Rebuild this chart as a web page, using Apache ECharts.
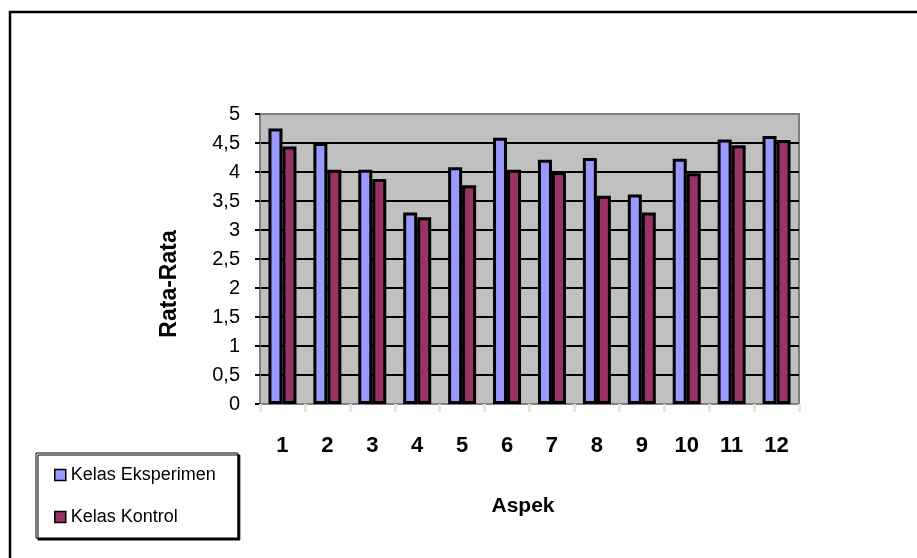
<!DOCTYPE html>
<html>
<head>
<meta charset="utf-8">
<script src="https://cdn.jsdelivr.net/npm/echarts@6/dist/echarts.min.js"></script>
<style>
  html, body { margin: 0; padding: 0; background: #ffffff; }
  #chart { width: 917px; height: 558px; }
</style>
</head>
<body>
<div id="chart"></div>
<script>
// Aspects assessed (x axis categories)
const aspek = ['1', '2', '3', '4', '5', '6', '7', '8', '9', '10', '11', '12'];
// Mean score per aspect for each class
const kelasEksperimen = [4.75, 4.50, 4.04, 3.30, 4.08, 4.59, 4.21, 4.24, 3.61, 4.23, 4.56, 4.62];
const kelasKontrol    = [4.44, 4.04, 3.88, 3.22, 3.77, 4.04, 4.00, 3.59, 3.30, 3.98, 4.46, 4.55];
const seriesNames = ['Kelas Eksperimen', 'Kelas Kontrol'];
const yTicks = { min: 0, max: 5, step: 0.5 };

const font = '"Liberation Sans", Arial, sans-serif';

// Split line colours: grey on the frame edges (0 and 5), black inside
const splitColors = [];
for (let v = yTicks.min; v <= yTicks.max + 1e-9; v += yTicks.step) {
  splitColors.push(v === yTicks.min || Math.abs(v - yTicks.max) < 1e-9 ? '#808080' : '#000000');
}

const chart = echarts.init(document.getElementById('chart'), null, { renderer: 'canvas' });

chart.setOption({
  animation: false,
  backgroundColor: '#ffffff',
  grid: {
    left: 260, top: 114, right: 118, bottom: 154,
    show: true,
    backgroundColor: '#c0c0c0',
    borderColor: '#808080',
    borderWidth: 2
  },
  legend: {
    orient: 'vertical',
    left: 36,
    top: 453,
    data: seriesNames,
    itemWidth: 11,
    itemHeight: 11,
    itemGap: 24,
    padding: [13, 22, 12, 18],
    backgroundColor: '#ffffff',
    borderColor: '#000000',
    borderWidth: 1,
    shadowColor: '#000000',
    shadowOffsetX: 2,
    shadowOffsetY: 2,
    shadowBlur: 0,
    icon: 'rect',
    itemStyle: { borderColor: '#000000', borderWidth: 1.5 },
    textStyle: { fontFamily: font, fontSize: 18, color: '#000000' }
  },
  xAxis: {
    type: 'category',
    data: aspek,
    boundaryGap: true,
    axisLine: { show: true, lineStyle: { color: '#808080', width: 2 } },
    axisTick: { show: true, length: 8, lineStyle: { color: '#e6e6d6', width: 3 } },
    axisLabel: {
      margin: 31,
      fontFamily: font,
      fontSize: 22,
      fontWeight: 'bold',
      color: '#000000'
    },
    splitLine: { show: false }
  },
  yAxis: {
    type: 'value',
    min: yTicks.min,
    max: yTicks.max,
    interval: yTicks.step,
    axisLine: { show: true, lineStyle: { color: '#808080', width: 2 } },
    axisTick: { show: true, length: 5, lineStyle: { color: '#000000', width: 2 } },
    axisLabel: {
      margin: 20,
      fontFamily: font,
      fontSize: 20,
      color: '#000000',
      formatter: v => String(v).replace('.', ',')
    },
    splitLine: { show: true, lineStyle: { color: splitColors, width: 2 } }
  },
  graphic: [
    // outer frame: top and left edges
    {
      type: 'polyline',
      shape: { points: [[10, 558], [10, 12], [917, 12]] },
      style: { stroke: '#000000', lineWidth: 2.5, fill: null },
      z: 10
    },
    {
      type: 'text',
      x: 170, y: 284,
      rotation: Math.PI / 2,
      style: {
        text: 'Rata-Rata',
        font: 'bold 23px ' + font,
        fill: '#000000',
        align: 'center',
        verticalAlign: 'middle'
      }
    },
    {
      type: 'text',
      x: 523, y: 506,
      style: {
        text: 'Aspek',
        font: 'bold 21px ' + font,
        fill: '#000000',
        align: 'center',
        verticalAlign: 'middle'
      }
    }
  ],
  series: [
    {
      name: seriesNames[0],
      type: 'bar',
      data: kelasEksperimen,
      barWidth: 14,
      barGap: '0%',
      itemStyle: { color: '#9999ff', borderColor: '#000000', borderWidth: 3 }
    },
    {
      name: seriesNames[1],
      type: 'bar',
      data: kelasKontrol,
      barWidth: 14,
      barGap: '0%',
      itemStyle: { color: '#993366', borderColor: '#000000', borderWidth: 3 }
    }
  ]
});
</script>
</body>
</html>
